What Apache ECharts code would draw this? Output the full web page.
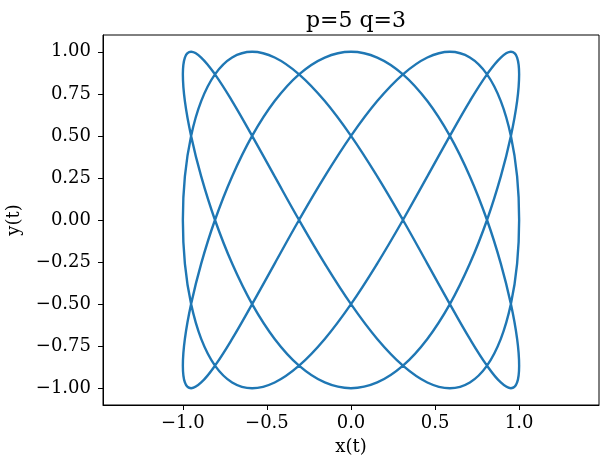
<!DOCTYPE html>
<html>
<head>
<meta charset="utf-8">
<script src="https://cdn.jsdelivr.net/npm/echarts@6/dist/echarts.min.js"></script>
<style>html,body{margin:0;padding:0;background:#fff}#c{width:609px;height:466px}</style>
</head>
<body>
<div id="c"></div>
<script>
// Points (x(t), y(t)), in order of t
const xValues = [
 0.309,0.454,0.588,0.707,0.809,0.891,0.951,0.988,1,0.988,0.951,0.891,0.809,0.707,0.588,0.454,0.309,0.156,0,-0.156,
 -0.309,-0.454,-0.588,-0.707,-0.809,-0.891,-0.951,-0.988,-1,-0.988,-0.951,-0.891,-0.809,-0.707,-0.588,-0.454,-0.309,-0.156,0,0.156,
 0.309,0.454,0.588,0.707,0.809,0.891,0.951,0.988,1,0.988,0.951,0.891,0.809,0.707,0.588,0.454,0.309,0.156,0,-0.156,
 -0.309,-0.454,-0.588,-0.707,-0.809,-0.891,-0.951,-0.988,-1,-0.988,-0.951,-0.891,-0.809,-0.707,-0.588,-0.454,-0.309,-0.156,0,0.156,
 0.309,0.454,0.588,0.707,0.809,0.891,0.951,0.988,1,0.988,0.951,0.891,0.809,0.707,0.588,0.454,0.309,0.156,0,-0.156,
 -0.309,-0.454,-0.588,-0.707,-0.809,-0.891,-0.951,-0.988,-1,-0.988,-0.951,-0.891,-0.809,-0.707,-0.588,-0.454,-0.309,-0.156,0,0.156,
 0.309
];
const yValues = [
 0,0.259,0.5,0.707,0.866,0.966,1,0.966,0.866,0.707,0.5,0.259,0,-0.259,-0.5,-0.707,-0.866,-0.966,-1,-0.966,-0.866,-0.707,-0.5,-0.259,
 0,0.259,0.5,0.707,0.866,0.966,1,0.966,0.866,0.707,0.5,0.259,0,-0.259,-0.5,-0.707,-0.866,-0.966,-1,-0.966,-0.866,-0.707,-0.5,-0.259,
 0,0.259,0.5,0.707,0.866,0.966,1,0.966,0.866,0.707,0.5,0.259,0,-0.259,-0.5,-0.707,-0.866,-0.966,-1,-0.966,-0.866,-0.707,-0.5,-0.259,
 0,0.259,0.5,0.707,0.866,0.966,1,0.966,0.866,0.707,0.5,0.259,0,-0.259,-0.5,-0.707,-0.866,-0.966,-1,-0.966,-0.866,-0.707,-0.5,-0.259,
 0,0.259,0.5,0.707,0.866,0.966,1,0.966,0.866,0.707,0.5,0.259,0,-0.259,-0.5,-0.707,-0.866,-0.966,-1,-0.966,-0.866,-0.707,-0.5,-0.259,
 0
];
const xTicks = [-1.0, -0.5, 0.0, 0.5, 1.0];
const yTicks = [-1.0, -0.75, -0.5, -0.25, 0.0, 0.25, 0.5, 0.75, 1.0];
const titleText = 'p=5 q=3';
const xName = 'x(t)';
const yName = 'y(t)';

const pts = xValues.map((x, i) => [x, yValues[i]]);
const fmt = (d) => (v) => { const s = Math.abs(v).toFixed(d); return (v < -1e-9 ? '\u2212' : '') + s; };
const FONT = 'DejaVu Serif';

const chart = echarts.init(document.getElementById('c'), null, {renderer: 'canvas'});
chart.setOption({
  animation: false,
  backgroundColor: '#fff',
  title: {
    text: titleText, left: 351, top: 5, textAlign: 'center',
    textStyle: {fontFamily: FONT, fontWeight: 'normal', fontSize: 22, color: '#000'}
  },
  grid: {left: 103, right: 10, top: 35, bottom: 61, containLabel: false, outerBoundsMode: 'none',
    show: true, borderColor: '#000', borderWidth: 1, backgroundColor: 'transparent'},
  xAxis: {
    type: 'value', min: -1.475, max: 1.475,
    name: xName, nameLocation: 'middle', nameGap: 33,
    nameTextStyle: {fontFamily: FONT, fontSize: 18, color: '#000'},
    axisLine: {show: true, onZero: false, lineStyle: {color: '#000', width: 1}},
    axisTick: {show: true, length: 5, lineStyle: {color: '#000'}, customValues: xTicks},
    axisLabel: {fontFamily: FONT, fontSize: 18, color: '#000', margin: 9, customValues: xTicks, formatter: fmt(1)},
    splitLine: {show: false}
  },
  yAxis: {
    type: 'value', min: -1.1, max: 1.1,
    name: yName, nameLocation: 'middle', nameGap: 80,
    nameTextStyle: {fontFamily: FONT, fontSize: 18, color: '#000'},
    axisLine: {show: true, onZero: false, lineStyle: {color: '#000', width: 1}},
    axisTick: {show: true, length: 5, lineStyle: {color: '#000'}, customValues: yTicks},
    axisLabel: {fontFamily: FONT, fontSize: 18, color: '#000', margin: 12, customValues: yTicks, formatter: fmt(2)},
    splitLine: {show: false}
  },
  series: [{
    type: 'line', data: pts, symbol: 'none', smooth: 0.4, smoothMonotone: 'none',
    lineStyle: {color: '#1f77b4', width: 2.4}, clip: false
  }]
});
</script>
</body>
</html>
